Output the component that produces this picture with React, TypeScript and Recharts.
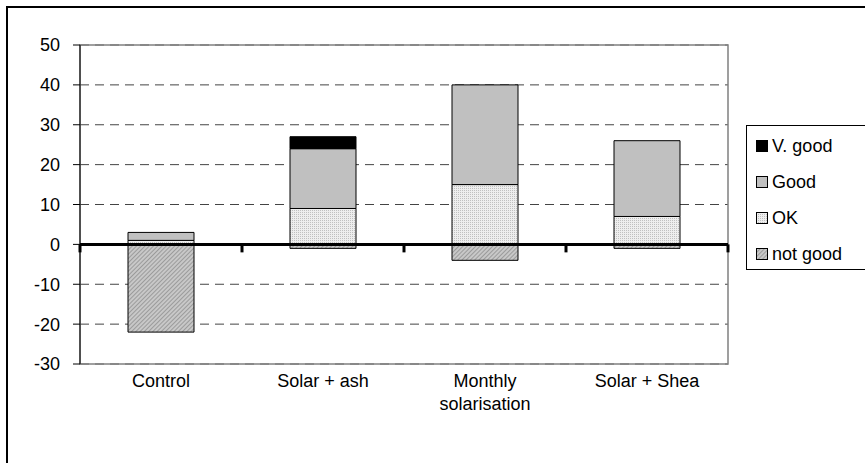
import React from 'react';
import { BarChart, Bar, XAxis, YAxis, CartesianGrid, ReferenceLine, ReferenceArea, Text } from 'recharts';

const categories = ['Control', 'Solar + ash', 'Monthly solarisation', 'Solar + Shea'];
const notGood = [-22, -1, -4, -1];
const ok = [1, 9, 15, 7];
const good = [2, 15, 25, 19];
const vGood = [0, 3, 0, 0];
const yTicks = [-30, -20, -10, 0, 10, 20, 30, 40, 50];

const seriesKeys = ['notGood', 'ok', 'good', 'vGood'];
const seriesNames: Record<string, string> = { notGood: 'not good', ok: 'OK', good: 'Good', vGood: 'V. good' };
const seriesFills: Record<string, string> = {
  notGood: 'url(#hatchNotGood)',
  ok: 'url(#dotsOk)',
  good: '#c0c0c0',
  vGood: '#000000',
};

const data = categories.map((c, i) => ({
  name: c,
  notGood: notGood[i],
  ok: ok[i],
  good: good[i],
  vGood: vGood[i],
}));

const FONT = '"Liberation Sans", Arial, sans-serif';

const CategoryTick = (props: any) => {
  const { x, y, payload } = props;
  return (
    <Text
      x={x}
      y={y + 10}
      width={130}
      textAnchor="middle"
      verticalAnchor="start"
      lineHeight={23}
      fontSize={18}
      fontFamily={FONT}
      fill="#000"
    >
      {payload.value}
    </Text>
  );
};

const ZeroLine = (props: any) => {
  const { x1, x2, y1 } = props;
  if (x1 == null || x2 == null || y1 == null) return null;
  const n = categories.length;
  const step = (x2 - x1) / n;
  const ticks = [];
  for (let i = 0; i <= n; i++) {
    const tx = x1 + i * step;
    ticks.push(<line key={i} x1={tx} x2={tx} y1={y1} y2={y1 + 8} stroke="#000" strokeWidth={3} />);
  }
  return (
    <g>
      <line x1={x1} x2={x2} y1={y1} y2={y1} stroke="#000" strokeWidth={3} />
      {ticks}
    </g>
  );
};

const LegendBox = () => {
  const keys = seriesKeys.slice().reverse();
  return (
    <div
      style={{
        position: 'absolute',
        left: 746,
        top: 125,
        border: '1px solid #000',
        background: '#fff',
        width: 140,
        height: 145,
        boxSizing: 'border-box',
        paddingTop: 2,
        fontFamily: FONT,
        fontSize: 18,
      }}
    >
      {keys.map((k) => (
        <div key={k} style={{ height: 36, display: 'flex', alignItems: 'center', paddingLeft: 9 }}>
          <svg width={12} height={12} style={{ marginRight: 4 }}>
            <rect x={0.5} y={0.5} width={11} height={11} fill={seriesFills[k]} stroke="#000" strokeWidth={1} />
          </svg>
          <span style={{ color: '#000', whiteSpace: 'nowrap' }}>{seriesNames[k]}</span>
        </div>
      ))}
    </div>
  );
};

export default function App() {
  return (
    <div style={{ position: 'absolute', left: 0, top: 0, width: 865, height: 463, overflow: 'hidden', background: '#fff' }}>
      <div
        style={{
          position: 'absolute',
          left: 6,
          top: 6,
          width: 900,
          height: 500,
          borderLeft: '2px solid #000',
          borderTop: '2px solid #000',
        }}
      />
      <div style={{ position: 'absolute', left: 0, top: 0 }}>
        <BarChart
          width={865}
          height={463}
          data={data}
          stackOffset="sign"
          margin={{ top: 45, right: 137, left: 30, bottom: 59 }}
        >
          <defs>
            <pattern id="hatchNotGood" width={3} height={3} patternUnits="userSpaceOnUse" patternTransform="rotate(45)">
              <rect width={3} height={3} fill="#c8c8c8" />
              <line x1={0} y1={0} x2={0} y2={3} stroke="#7c7c7c" strokeWidth={1.2} />
            </pattern>
            <pattern id="dotsOk" width={2} height={2} patternUnits="userSpaceOnUse">
              <rect width={2} height={2} fill="#eeeeee" />
              <rect width={1} height={1} fill="#c0c0c0" />
            </pattern>
          </defs>
          <CartesianGrid vertical={false} stroke="#444" strokeDasharray="9 6" />
          <ReferenceArea y1={-30} y2={50} fill="none" stroke="#808080" strokeWidth={1.5} ifOverflow="visible" />
          <XAxis
            dataKey="name"
            axisLine={false}
            tickLine={false}
            tickSize={0}
            tickMargin={0}
            height={40}
            interval={0}
            tick={<CategoryTick />}
          />
          <YAxis
            domain={[-30, 50]}
            ticks={yTicks}
            interval={0}
            width={50}
            axisLine={{ stroke: '#000', strokeWidth: 1 }}
            tickLine={{ stroke: '#000', strokeWidth: 1 }}
            tickSize={7}
            tickMargin={13}
            tick={{ fill: '#000', fontSize: 18, fontFamily: FONT }}
          />
          {seriesKeys.map((k) => (
            <Bar
              key={k}
              dataKey={k}
              name={seriesNames[k]}
              stackId="a"
              fill={seriesFills[k]}
              stroke="#000"
              strokeWidth={1}
              barSize={66}
              isAnimationActive={false}
            />
          ))}
          <ReferenceLine y={0} shape={<ZeroLine />} ifOverflow="visible" />
        </BarChart>
      </div>
      <LegendBox />
    </div>
  );
}
